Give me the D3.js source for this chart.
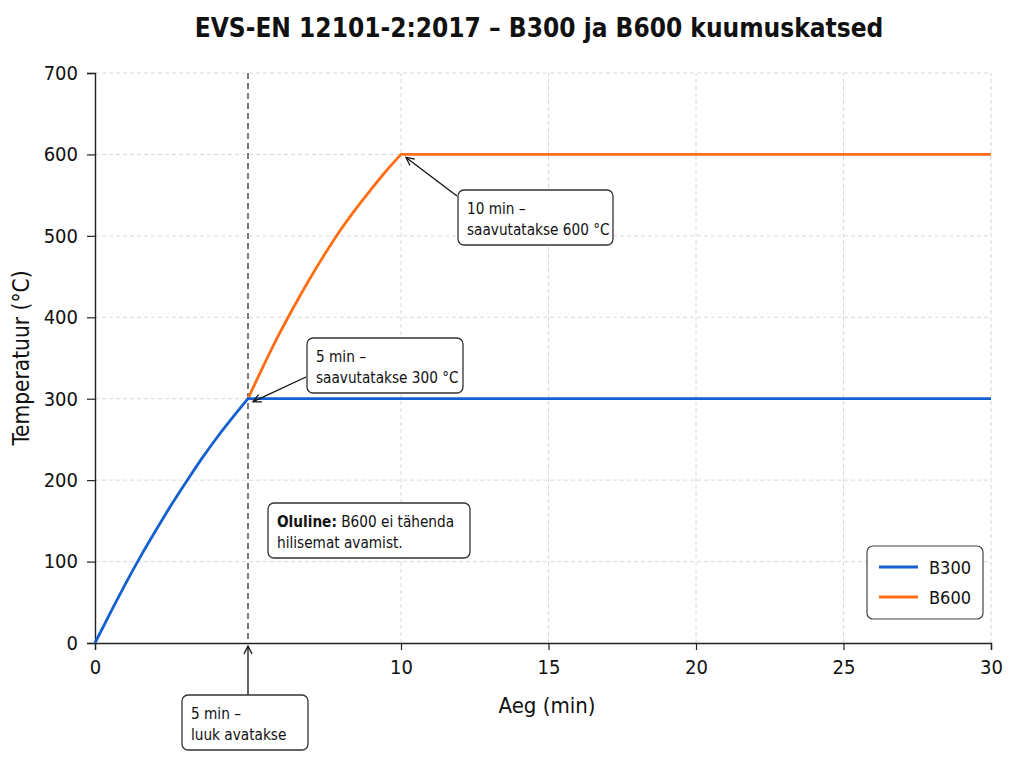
<!DOCTYPE html>
<html>
<head>
<meta charset="utf-8">
<script src="https://cdn.jsdelivr.net/npm/d3@7"></script>
<style>
  body { margin: 0; background: #fff; }
  text { fill: #111; }
</style>
</head>
<body>
<svg id="chart" width="1024" height="768"></svg>
<script>
// --- data ---
const timeB300 = [0, 0.5, 1, 1.5, 2, 2.5, 3, 3.5, 4, 4.5, 5, 30];
const tempB300 = [0, 37, 73, 107, 139, 170, 199, 227, 253, 277, 300, 300];
const timeB600 = [5, 5.5, 6, 6.5, 7, 7.5, 8, 8.5, 9, 9.5, 10, 30];
const tempB600 = [300, 340, 378, 413, 446, 477, 506, 532, 556, 579, 600, 600];
const seriesNames = ['B300', 'B600'];
const xTicks = [0, 10, 15, 20, 25, 30];
const yTicks = [0, 100, 200, 300, 400, 500, 600, 700];
const hatchOpenTime = 5;
const noteTexts = [
  ['5 min –', 'saavutatakse 300 °C'],
  ['10 min –', 'saavutatakse 600 °C'],
  ['Oluline:|B600 ei tähenda', 'hilisemat avamist.'],
  ['5 min –', 'luuk avatakse']
];
const notePoints = [[5, 300], [10, 600], null, [5, 0]];

const colors = { B300: '#1560d0', B600: '#ff6e14' };
const font = '"DejaVu Sans Condensed", "DejaVu Sans", sans-serif';
const svg = d3.select('#chart');

const margin = { top: 73, right: 33, bottom: 125, left: 95 };
const W = 1024, H = 768;

// the reference axis is slightly stretched before 10 min
const x = d3.scaleLinear().domain([0, 10, 30]).range([margin.left, 401, W - margin.right]);
const y = d3.scaleLinear().domain([0, 700]).range([H - margin.bottom, margin.top]);

// grid
const grid = svg.append('g').attr('class', 'grid')
  .attr('stroke', '#d4d4d4').attr('stroke-width', 0.9).attr('stroke-dasharray', '4,3');
grid.selectAll('line.h').data(yTicks.filter(d => d > 0)).join('line')
  .attr('class', 'h')
  .attr('x1', x(0)).attr('x2', x(30))
  .attr('y1', d => y(d)).attr('y2', d => y(d));
grid.selectAll('line.v').data(xTicks.filter(d => d > 0)).join('line')
  .attr('class', 'v')
  .attr('x1', d => x(d)).attr('x2', d => x(d))
  .attr('y1', y(0)).attr('y2', y(700));

// hatch-open marker line
svg.append('line')
  .attr('x1', x(hatchOpenTime)).attr('x2', x(hatchOpenTime))
  .attr('y1', y(700)).attr('y2', y(0))
  .attr('stroke', '#333').attr('stroke-width', 1.3).attr('stroke-dasharray', '6,4');

// axes
const xAxis = svg.append('g')
  .attr('transform', `translate(0,${y(0)})`)
  .call(d3.axisBottom(x).tickValues(xTicks).tickFormat(d3.format('d')).tickSize(7).tickPadding(10));
const yAxis = svg.append('g')
  .attr('transform', `translate(${x(0)},0)`)
  .call(d3.axisLeft(y).tickValues(yTicks).tickSize(8).tickPadding(9));
[xAxis, yAxis].forEach(a => {
  a.select('.domain').attr('stroke', '#222').attr('stroke-width', 1.4);
  a.selectAll('.tick line').attr('stroke', '#222').attr('stroke-width', 1.2);
  a.selectAll('.tick text').attr('fill', '#111')
    .style('font-size', '20px').style('font-family', font);
});

// series: rising part smoothed, plateau straight; B600 first so B300 sits on top
const rise = d3.line().x(d => x(d[0])).y(d => y(d[1])).curve(d3.curveMonotoneX);
const flat = d3.line().x(d => x(d[0])).y(d => y(d[1]));
const series = [
  { name: 'B600', pts: d3.zip(timeB600, tempB600) },
  { name: 'B300', pts: d3.zip(timeB300, tempB300) }
];
svg.append('g').selectAll('path').data(series).join('path')
  .attr('d', d => {
    const n = d.pts.length;
    return rise(d.pts.slice(0, n - 1)) + flat(d.pts.slice(n - 2)).replace(/^M[^L]*/, '');
  })
  .attr('fill', 'none')
  .attr('stroke', d => colors[d.name])
  .attr('stroke-width', 2.8)
  .attr('stroke-linejoin', 'round');

// title and labels
svg.append('text').attr('x', 539).attr('y', 37).attr('text-anchor', 'middle')
  .style('font-family', font).style('font-size', '26px').style('font-weight', 'bold')
  .text('EVS-EN 12101-2:2017 – B300 ja B600 kuumuskatsed');
svg.append('text').attr('x', 547).attr('y', 713).attr('text-anchor', 'middle')
  .style('font-family', font).style('font-size', '22px').text('Aeg (min)');
svg.append('text').attr('transform', 'translate(29,358) rotate(-90)').attr('text-anchor', 'middle')
  .style('font-family', font).style('font-size', '22.5px').text('Temperatuur (°C)');

// arrow marker
svg.append('defs').append('marker')
  .attr('id', 'arrowhead')
  .attr('viewBox', '0 0 10 10').attr('refX', 9).attr('refY', 5)
  .attr('markerWidth', 10).attr('markerHeight', 10)
  .attr('markerUnits', 'userSpaceOnUse')
  .attr('orient', 'auto')
  .append('path').attr('d', 'M1,1 L9,5 L1,9')
  .attr('fill', 'none').attr('stroke', '#111').attr('stroke-width', 1.3);

// annotation boxes (pixel layout matched to reference)
const noteBoxes = [
  { left: 307, top: 338, width: 156, from: [306, 377], gap: [5, 3] },
  { left: 458, top: 190, width: 155, from: [457, 196], gap: [5, 3] },
  { left: 268, top: 503, width: 202 },
  { left: 182, top: 695, width: 126, gap: [0, 3], vertical: true }
];

const notes = svg.append('g');
noteTexts.forEach((lines, i) => {
  const b = noteBoxes[i];
  const g = notes.append('g');
  const p = notePoints[i];
  if (p) {
    const px = x(p[0]), py = y(p[1]);
    const from = b.vertical ? [px, b.top] : b.from;
    const to = [px + b.gap[0], py + b.gap[1]];
    g.append('line')
      .attr('x1', from[0]).attr('y1', from[1])
      .attr('x2', to[0]).attr('y2', to[1])
      .attr('stroke', '#111').attr('stroke-width', 1.3)
      .attr('marker-end', 'url(#arrowhead)');
  }
  g.append('rect')
    .attr('x', b.left).attr('y', b.top).attr('width', b.width).attr('height', 55)
    .attr('rx', 6).attr('fill', '#fff').attr('stroke', '#333').attr('stroke-width', 1.3);
  const t = g.append('text').style('font-family', font).style('font-size', '15.2px');
  lines.forEach((ln, j) => {
    const tspan = t.append('tspan').attr('x', b.left + 9).attr('y', b.top + 24 + j * 21);
    const parts = ln.split('|');
    if (parts.length > 1) {
      tspan.append('tspan').style('font-weight', 'bold').text(parts[0]);
      tspan.append('tspan').text(' ' + parts[1]);
    } else {
      tspan.text(ln);
    }
  });
});

// legend
const legend = svg.append('g');
legend.append('rect').attr('x', 867).attr('y', 546).attr('width', 116).attr('height', 73)
  .attr('rx', 6).attr('fill', '#fff').attr('stroke', '#444').attr('stroke-width', 1.2);
const items = legend.selectAll('g.item').data(seriesNames).join('g')
  .attr('class', 'item')
  .attr('transform', (d, i) => `translate(879,${567 + i * 30})`);
items.append('line').attr('x1', 0).attr('x2', 39)
  .attr('stroke', d => colors[d]).attr('stroke-width', 2.8);
items.append('text').attr('x', 50).attr('y', 7)
  .style('font-family', font).style('font-size', '18px').text(d => d);
</script>
</body>
</html>
